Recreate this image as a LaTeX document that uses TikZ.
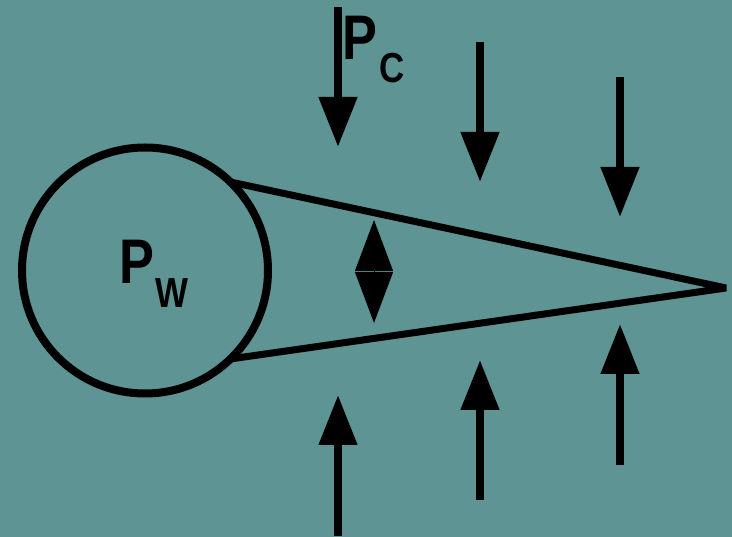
\documentclass[tikz,border=0pt]{standalone}
\usepackage{fontspec}
\newfontfamily\labfont{Liberation Sans}[FakeStretch=0.83]
\usetikzlibrary{arrows.meta}
\definecolor{bg}{RGB}{95,148,148}
\begin{document}
\begin{tikzpicture}[x=1pt,y=-1pt,
  force/.style={line width=8pt,-{Triangle[length=50pt,width=37pt]}},
  dbl/.style={line width=1pt,{Triangle[length=51pt,width=38pt]}-{Triangle[length=51pt,width=38pt]}},
  big/.style={inner sep=0pt,anchor=base west,font=\labfont\bfseries\fontsize{63}{63}\selectfont},
  small/.style={inner sep=0pt,anchor=base west,font=\labfont\bfseries\fontsize{42}{42}\selectfont}]
\useasboundingbox (0,0) rectangle (732,537);
\fill[bg] (0,0) rectangle (732,537);
% wheel
\node[draw,circle,line width=8pt,minimum size=246pt,inner sep=0pt,outer sep=0pt] (w) at (145,270.5) {};
\node[big] (pw) at (119,284) {P};
\node[small] (pwsub) at (155,308) {W};
% wedge
\coordinate (apex) at (726,288);
\draw[line width=7pt,line join=bevel] (w.46) -- (apex) -- (w.-46);
% top forces
\coordinate (t1) at (338,7);   \coordinate (t1e) at (338,147);
\coordinate (t2) at (480,42);  \coordinate (t2e) at (480,182);
\coordinate (t3) at (620,77);  \coordinate (t3e) at (620,217);
\draw[force] (t1) -- (t1e);
\draw[force] (t2) -- (t2e);
\draw[force] (t3) -- (t3e);
% bottom forces
\coordinate (b1) at (338,536); \coordinate (b1e) at (338,395);
\coordinate (b2) at (480,500); \coordinate (b2e) at (480,360);
\coordinate (b3) at (620,465); \coordinate (b3e) at (620,324);
\draw[force] (b1) -- (b1e);
\draw[force] (b2) -- (b2e);
\draw[force] (b3) -- (b3e);
% pc label
\node[big] (pc) at (342,60) {P};
\node[small] (pcsub) at (379,83) {C};
% double arrow
\coordinate (d1) at (374,220);
\coordinate (d2) at (374,323);
\draw[dbl] (d1) -- (d2);
\end{tikzpicture}
\end{document}
